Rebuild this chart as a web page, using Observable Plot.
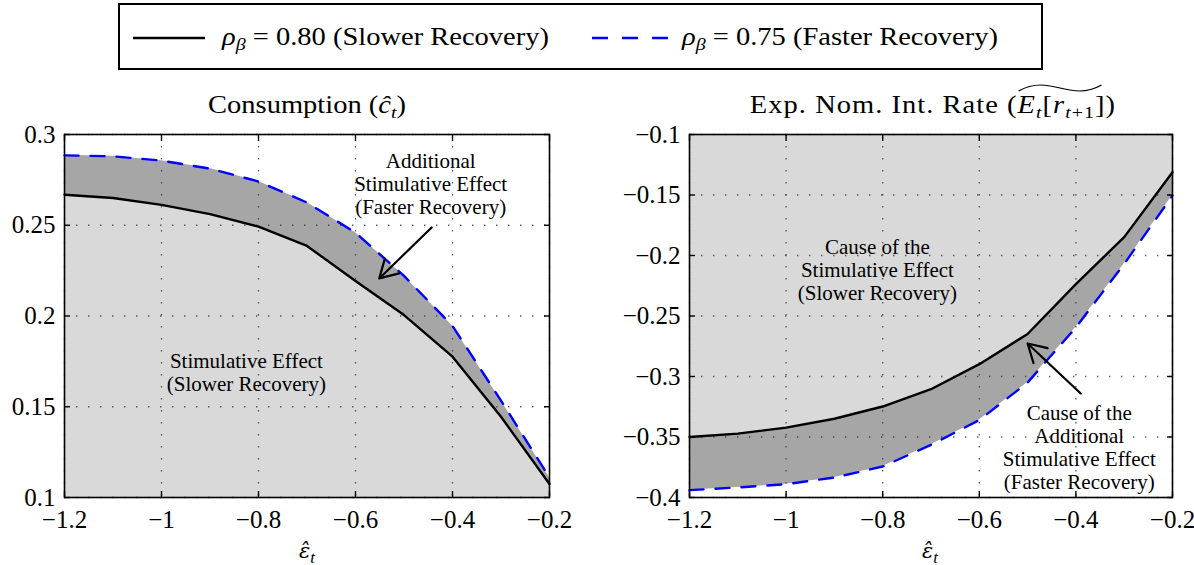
<!DOCTYPE html>
<html>
<head>
<meta charset="utf-8">
<script src="https://cdn.jsdelivr.net/npm/d3@7"></script>
<script src="https://cdn.jsdelivr.net/npm/@observablehq/plot@0.6"></script>
<style>
  html, body { margin: 0; padding: 0; background: #fff; }
  body { width: 1194px; height: 565px; position: relative; overflow: hidden; font-family: 'Liberation Serif'; color: #000; }
  .abs { position: absolute; font-family: 'Liberation Serif'; }
  .title { font-size: 25px; white-space: nowrap; transform: translateX(-50%) scaleX(1.14); transform-origin: 50% 50%; }
  .xlab { font-size: 24px; white-space: nowrap; transform: translateX(-50%); }
  .leg { font-size: 25px; white-space: nowrap; transform: scaleX(1.14); transform-origin: 0 50%; }
  sub { font-size: 0.7em; vertical-align: -0.3em; line-height: 0; }
  .tw { position: relative; display: inline-block; }
  .tw svg { position: absolute; left: 0; top: -8px; width: calc(100% - 3px); height: 10px; overflow: visible; }
  .eps { font-family: 'DejaVu Serif'; font-style: italic; font-size: 21px; }
</style>
</head>
<body>
<div class="abs" style="left:118px;top:3px;width:921px;height:63px;border:2px solid #000;"></div>
<svg class="abs" style="left:133px;top:30px" width="75" height="16"><line x1="0" y1="8" x2="72" y2="8" stroke="#000" stroke-width="2.6"/></svg>
<div class="abs leg" style="left:222px;top:23px"><i>ρ</i><sub><i>β</i></sub> = 0.80 (Slower Recovery)</div>
<svg class="abs" style="left:592px;top:30px" width="80" height="16"><line x1="0" y1="8" x2="76" y2="8" stroke="#0000ff" stroke-width="2.6" stroke-dasharray="16,14"/></svg>
<div class="abs leg" style="left:682px;top:23px"><i>ρ</i><sub><i>β</i></sub> = 0.75 (Faster Recovery)</div>

<div class="abs title" style="left:307px;top:91px">Consumption (<i>ĉ</i><sub><i>t</i></sub>)</div>
<div class="abs title" style="left:933px;top:91px;letter-spacing:0.9px">Exp. Nom. Int. Rate (<span class="tw"><i>E</i><sub><i>t</i></sub>[<i>r</i><sub><i>t</i>+1</sub>]<svg viewBox="0 0 100 10" preserveAspectRatio="none"><path d="M1,8 C20,-1 35,2 50,5 C65,8 80,11 99,2" fill="none" stroke="#000" stroke-width="1.2" vector-effect="non-scaling-stroke"/></svg></span>)</div>

<div id="left" class="abs" style="left:0px;top:110px"></div>
<div id="right" class="abs" style="left:600px;top:110px"></div>

<div class="abs xlab" style="left:307px;top:537px"><span class="eps">ε̂</span><sub><i>t</i></sub></div>
<div class="abs xlab" style="left:930px;top:537px"><span class="eps">ε̂</span><sub><i>t</i></sub></div>

<script>
// ---- data ----
const eps = [-1.2, -1.1, -1.0, -0.9, -0.8, -0.7, -0.6, -0.5, -0.4, -0.3, -0.2];
// Consumption
const consSlow = [0.2668, 0.2650, 0.2612, 0.2561, 0.2492, 0.2386, 0.2193, 0.2005, 0.1776, 0.1445, 0.1074];
const consFast = [0.2885, 0.2880, 0.2856, 0.2812, 0.2741, 0.2625, 0.2459, 0.2221, 0.1945, 0.1534, 0.1110];
// Expected nominal interest rate
const rateSlow = [-0.3500, -0.3472, -0.3423, -0.3349, -0.3248, -0.3105, -0.2898, -0.2649, -0.2236, -0.1848, -0.1312];
const rateFast = [-0.3939, -0.3917, -0.3890, -0.3835, -0.3744, -0.3565, -0.3360, -0.3050, -0.2594, -0.2069, -0.1505];

const xTicks = [-1.2, -1.0, -0.8, -0.6, -0.4, -0.2];
const xLabels = ["−1.2", "−1", "−0.8", "−0.6", "−0.4", "−0.2"];
const yTicksLeft = [0.1, 0.15, 0.2, 0.25, 0.3];
const yLabelsLeft = ["0.1", "0.15", "0.2", "0.25", "0.3"];
const yTicksRight = [-0.4, -0.35, -0.3, -0.25, -0.2, -0.15, -0.1];
const yLabelsRight = ["−0.4", "−0.35", "−0.3", "−0.25", "−0.2", "−0.15", "−0.1"];
const xDomain = [-1.2, -0.2];
const yDomainLeft = [0.1, 0.3];
const yDomainRight = [-0.4, -0.1];

const leftNotes = [
  {x: -0.445, y: 0.273, text: "Additional\nStimulative Effect\n(Faster Recovery)"},
  {x: -0.825, y: 0.169, text: "Stimulative Effect\n(Slower Recovery)"}
];
const rightNotes = [
  {x: -0.811, y: -0.2116, text: "Cause of the\nStimulative Effect\n(Slower Recovery)"},
  {x: -0.393, y: -0.3583, text: "Cause of the\nAdditional\nStimulative Effect\n(Faster Recovery)"}
];
const leftArrow = [{x1: -0.443, y1: 0.2488, x2: -0.551, y2: 0.2207}];
const rightArrow = [{x1: -0.39, y1: -0.314, x2: -0.50, y2: -0.2727}];

// ---- build ----
const cons = eps.map((x, i) => ({x, slow: consSlow[i], fast: consFast[i]}));
const rate = eps.map((x, i) => ({x, slow: rateSlow[i], fast: rateFast[i]}));

const LIGHT = "#d9d9d9", DARK = "#a6a6a6";
const FONT = "Liberation Serif";

function grids(yTicks) {
  return [
    Plot.gridX({ticks: xTicks, stroke: "#333", strokeOpacity: 0.8, strokeWidth: 1.3, strokeDasharray: "1.4,10.6"}),
    Plot.gridY({ticks: yTicks, stroke: "#333", strokeOpacity: 0.8, strokeWidth: 1.3, strokeDasharray: "1.4,10.6"}),
  ];
}
function frameAxes(yTicks, yLabels) {
  const fx = d => xLabels[xTicks.indexOf(d)];
  const fy = d => yLabels[yTicks.indexOf(d)];
  return [
    Plot.frame({stroke: "#000", strokeWidth: 1.6}),
    Plot.axisX({ticks: xTicks, tickFormat: fx, tickSize: 0, tickPadding: 13, label: null, fontSize: 25, fontFamily: FONT}),
    Plot.axisX({anchor: "bottom", ticks: xTicks, tickFormat: () => "", tickSize: -6, label: null, stroke: "#000", strokeWidth: 1.4}),
    Plot.axisX({anchor: "top", ticks: xTicks, tickFormat: () => "", tickSize: -6, label: null, stroke: "#000", strokeWidth: 1.4}),
    Plot.axisY({ticks: yTicks, tickFormat: fy, tickSize: 0, tickPadding: 9, label: null, fontSize: 25, fontFamily: FONT}),
    Plot.axisY({anchor: "left", ticks: yTicks, tickFormat: () => "", tickSize: -6, label: null, stroke: "#000", strokeWidth: 1.4}),
    Plot.axisY({anchor: "right", ticks: yTicks, tickFormat: () => "", tickSize: -6, label: null, stroke: "#000", strokeWidth: 1.4})
  ];
}

const common = {
  height: 455,
  marginTop: 24,
  marginBottom: 68,
  x: {domain: xDomain, label: null},
  style: {fontFamily: FONT, fontSize: "25px", background: "transparent", color: "#000", overflow: "visible"}
};

const left = Plot.plot({
  ...common,
  width: 590,
  marginLeft: 64,
  marginRight: 41,
  y: {domain: yDomainLeft, label: null},
  marks: [
    Plot.areaY(cons, {x: "x", y1: yDomainLeft[0], y2: "slow", fill: LIGHT}),
    Plot.areaY(cons, {x: "x", y1: "slow", y2: "fast", fill: DARK}),
    ...grids(yTicksLeft),
    Plot.line(cons, {x: "x", y: "slow", stroke: "#000", strokeWidth: 2.4}),
    Plot.line(cons, {x: "x", y: "fast", stroke: "#0000ff", strokeWidth: 2.4, strokeDasharray: "14,12"}),
    Plot.arrow(leftArrow, {x1: "x1", y1: "y1", x2: "x2", y2: "y2", stroke: "#000", strokeWidth: 2.2, headLength: 14}),
    Plot.text(leftNotes, {x: "x", y: "y", text: "text", fontSize: 21, lineHeight: 1.1, fill: "#000", fontFamily: FONT}),
    ...frameAxes(yTicksLeft, yLabelsLeft)
  ]
});

const right = Plot.plot({
  ...common,
  width: 594,
  marginLeft: 89,
  marginRight: 22,
  y: {domain: yDomainRight, label: null},
  marks: [
    Plot.areaY(rate, {x: "x", y1: "slow", y2: yDomainRight[1], fill: LIGHT}),
    Plot.areaY(rate, {x: "x", y1: "fast", y2: "slow", fill: DARK}),
    ...grids(yTicksRight),
    Plot.line(rate, {x: "x", y: "slow", stroke: "#000", strokeWidth: 2.4}),
    Plot.line(rate, {x: "x", y: "fast", stroke: "#0000ff", strokeWidth: 2.4, strokeDasharray: "14,12"}),
    Plot.arrow(rightArrow, {x1: "x1", y1: "y1", x2: "x2", y2: "y2", stroke: "#000", strokeWidth: 2.2, headLength: 14}),
    Plot.text(rightNotes, {x: "x", y: "y", text: "text", fontSize: 21, lineHeight: 1.1, fill: "#000", fontFamily: FONT}),
    ...frameAxes(yTicksRight, yLabelsRight)
  ]
});

document.getElementById("left").appendChild(left);
document.getElementById("right").appendChild(right);
</script>
</body>
</html>
